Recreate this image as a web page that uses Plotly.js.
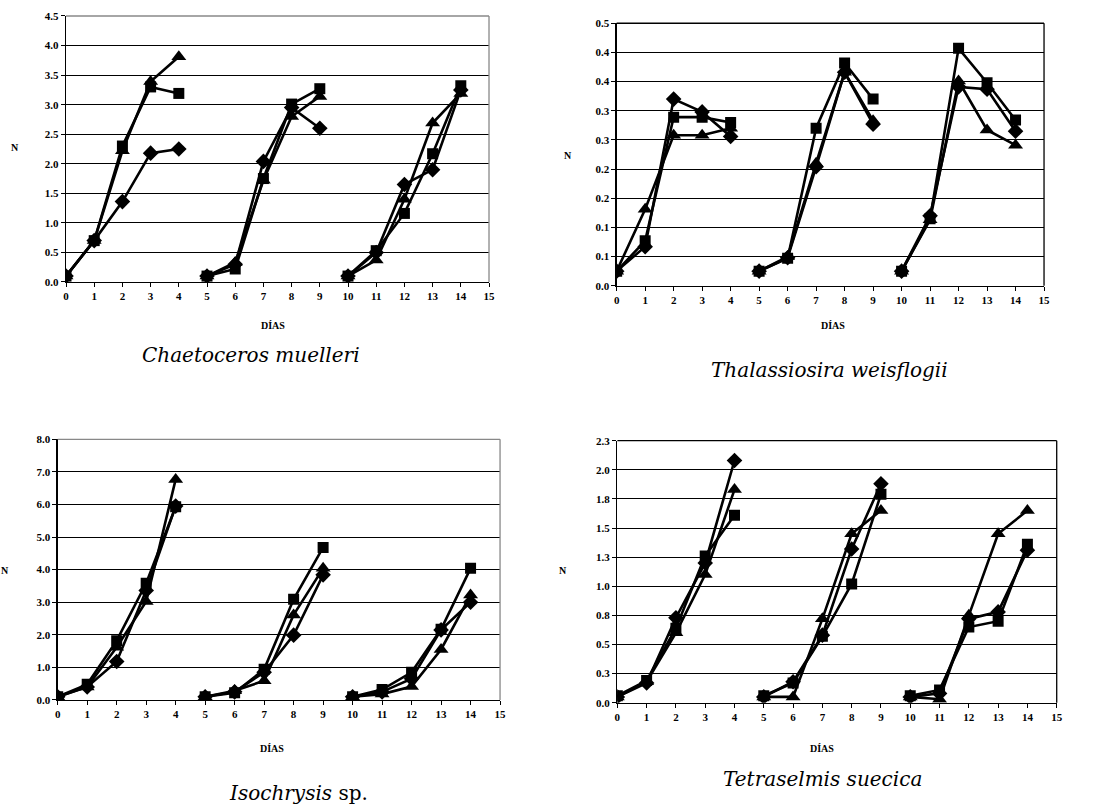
<!DOCTYPE html>
<html>
<head>
<meta charset="utf-8">
<script src="https://cdn.plot.ly/plotly-3.0.1.min.js"></script>
<style>html,body{margin:0;padding:0;background:#fff;}#chart{width:1093px;height:808px;}</style>
</head>
<body>
<div id="chart"></div>
<script>
// Days 0..14 (three 5-day cultures)
const days = [0,1,2,3,4,5,6,7,8,9,10,11,12,13,14];

// Chaetoceros muelleri
const chaetDiamond  = [0.10,0.70,1.36,2.18,2.25, 0.10,0.30,2.04,2.95,2.60, 0.10,0.50,1.65,1.90,3.25];
const chaetSquare   = [0.10,0.70,2.30,3.30,3.19, 0.10,0.22,1.75,3.01,3.27, 0.10,0.53,1.16,2.17,3.32];
const chaetTriangle = [0.10,0.70,2.22,3.39,3.81, 0.10,0.33,1.72,2.80,3.14, 0.10,0.37,1.40,2.69,3.19];

// Thalassiosira weisflogii
const thalDiamond  = [0.025,0.067,0.320,0.298,0.256, 0.025,0.048,0.204,0.366,0.277, 0.025,0.120,0.341,0.337,0.265];
const thalSquare   = [0.025,0.077,0.289,0.289,0.280, 0.025,0.047,0.270,0.382,0.320, 0.025,0.115,0.407,0.348,0.284];
const thalTriangle = [0.025,0.131,0.258,0.258,0.270, 0.025,0.050,0.210,0.366,0.283, 0.025,0.113,0.351,0.267,0.241];

// Isochrysis sp.
const isoDiamond  = [0.10,0.40,1.18,3.36,5.95, 0.10,0.25,0.85,1.99,3.84, 0.10,0.25,0.65,2.15,3.00];
const isoSquare   = [0.10,0.48,1.82,3.58,5.93, 0.10,0.22,0.94,3.09,4.68, 0.10,0.32,0.85,2.17,4.04];
const isoTriangle = [0.10,0.40,1.62,3.02,6.77, 0.10,0.28,0.59,2.61,4.04, 0.10,0.18,0.41,1.55,3.22];

// Tetraselmis suecica
const tetDiamond  = [0.05,0.17,0.73,1.20,2.08, 0.05,0.18,0.58,1.32,1.88, 0.05,0.08,0.72,0.78,1.31];
const tetSquare   = [0.06,0.19,0.64,1.26,1.61, 0.06,0.17,0.57,1.02,1.79, 0.06,0.11,0.65,0.70,1.36];
const tetTriangle = [0.05,0.18,0.60,1.10,1.83, 0.05,0.05,0.72,1.45,1.65, 0.05,0.03,0.75,1.45,1.65];

// Axis ticks
const xTickVals = [0,1,2,3,4,5,6,7,8,9,10,11,12,13,14,15];
const chaetTickVals = [0,0.5,1,1.5,2,2.5,3,3.5,4,4.5];
const chaetTickText = ["0.0","0.5","1.0","1.5","2.0","2.5","3.0","3.5","4.0","4.5"];
const thalTickVals = [0,0.05,0.10,0.15,0.20,0.25,0.30,0.35,0.40,0.45];
const thalTickText = ["0.0","0.1","0.1","0.2","0.2","0.3","0.3","0.4","0.4","0.5"];
const isoTickVals = [0,1,2,3,4,5,6,7,8];
const isoTickText = ["0.0","1.0","2.0","3.0","4.0","5.0","6.0","7.0","8.0"];
const tetTickVals = [0,0.25,0.5,0.75,1.0,1.25,1.5,1.75,2.0,2.25];
const tetTickText = ["0.0","0.3","0.5","0.8","1.0","1.3","1.5","1.8","2.0","2.3"];

const species = ["Chaetoceros muelleri","Thalassiosira weisflogii","<i>Isochrysis</i> sp.","Tetraselmis suecica"];
const xTitle = "DÍAS";
const yTitle = "N";

function segmented(vals){
  const xs=[], ys=[];
  for(let i=0;i<days.length;i++){
    if(i>0 && i%5===0){ xs.push(null); ys.push(null); }
    xs.push(days[i]); ys.push(vals[i]);
  }
  return {xs, ys};
}

const panels = [
  {d:chaetDiamond, s:chaetSquare, t:chaetTriangle, ax:''},
  {d:thalDiamond,  s:thalSquare,  t:thalTriangle,  ax:'2'},
  {d:isoDiamond,   s:isoSquare,   t:isoTriangle,   ax:'3'},
  {d:tetDiamond,   s:tetSquare,   t:tetTriangle,   ax:'4'}
];

const traces=[];
panels.forEach(p=>{
  [[p.d,'diamond',12],[p.s,'square',11],[p.t,'triangle-up',13]].forEach(([vals,sym,sz])=>{
    const g=segmented(vals);
    traces.push({
      x:g.xs, y:g.ys, type:'scatter', mode:'lines+markers',
      xaxis:'x'+p.ax, yaxis:'y'+p.ax, connectgaps:false,
      line:{color:'#000', width:2.6},
      marker:{symbol:sym, size:sz, color:'#000'},
      showlegend:false, hoverinfo:'skip'
    });
  });
});

const tickFont = {family:'"Liberation Serif", "Times New Roman", serif', size:11, color:'#000', weight:700};

function xaxis(domain, anchor){
  return {domain, anchor, range:[0,15], tickvals:xTickVals, ticks:'outside', ticklen:4, tickcolor:'#000',
    showline:true, linecolor:'#000', linewidth:1.3, showgrid:false, zeroline:false, tickfont:tickFont,
    fixedrange:true};
}
function yaxis(domain, anchor, range, vals, text){
  return {domain, anchor, range, tickvals:vals, ticktext:text, ticks:'outside', ticklen:4, tickcolor:'#000',
    showline:true, linecolor:'#000', linewidth:1.3, showgrid:true, gridcolor:'#000', gridwidth:1,
    zeroline:false, tickfont:tickFont, fixedrange:true};
}

const layout = {
  width:1093, height:808, margin:{l:0,r:0,t:0,b:0},
  paper_bgcolor:'#fff', plot_bgcolor:'#fff', showlegend:false,
  xaxis:  xaxis([0.0604,0.4474],'y'),
  yaxis:  yaxis([0.6510,0.9802],'x',[0,4.5],chaetTickVals,chaetTickText),
  xaxis2: xaxis([0.5642,0.9552],'y2'),
  yaxis2: yaxis([0.6464,0.9712],'x2',[0,0.45],thalTickVals,thalTickText),
  xaxis3: xaxis([0.0528,0.4575],'y3'),
  yaxis3: yaxis([0.1337,0.4563],'x3',[0,8],isoTickVals,isoTickText),
  xaxis4: xaxis([0.5648,0.9668],'y4'),
  yaxis4: yaxis([0.1303,0.4546],'x4',[0,2.25],tetTickVals,tetTickText),
  shapes:[],
  annotations:[]
};

// plot frame (top & right borders)
[['','#888'],['2','#000'],['3','#888'],['4','#000']].forEach(([a,c])=>{
  layout.shapes.push({type:'line', xref:'x'+a+' domain', yref:'y'+a+' domain', x0:0,x1:1,y0:1,y1:1, line:{color:c,width:1.3}});
  layout.shapes.push({type:'line', xref:'x'+a+' domain', yref:'y'+a+' domain', x0:1,x1:1,y0:0,y1:1, line:{color:c,width:1.3}});
});

const labelFont = {family:'"Liberation Serif", "Times New Roman", serif', size:10, color:'#000', weight:700};
const capFont = {family:'"DejaVu Serif", serif', size:20, color:'#000', style:'italic'};

// axis titles + captions (pixel positions converted to paper)
const P = (px,py)=>({x:px/1093, y:1-py/808});
const yTitles = [[15,148],[568,155],[5,570],[563,570]];
const xTitles = [[273,325],[833,325],[272,748],[822,748]];
const caps = [[251,355],[829,370],[298,793],[822,779]];
for(let i=0;i<4;i++){
  let p=P(...yTitles[i]);
  layout.annotations.push({xref:'paper',yref:'paper',x:p.x,y:p.y,text:yTitle,showarrow:false,font:labelFont,xanchor:'center',yanchor:'middle'});
  p=P(...xTitles[i]);
  layout.annotations.push({xref:'paper',yref:'paper',x:p.x,y:p.y,text:xTitle,showarrow:false,font:labelFont,xanchor:'center',yanchor:'middle'});
  p=P(...caps[i]);
  const f = Object.assign({}, capFont);
  if(i===2){ f.style='normal'; }
  layout.annotations.push({xref:'paper',yref:'paper',x:p.x,y:p.y,text:species[i],showarrow:false,font:f,xanchor:'center',yanchor:'middle'});
}

Plotly.newPlot('chart', traces, layout, {staticPlot:true, displayModeBar:false});
</script>
</body>
</html>
